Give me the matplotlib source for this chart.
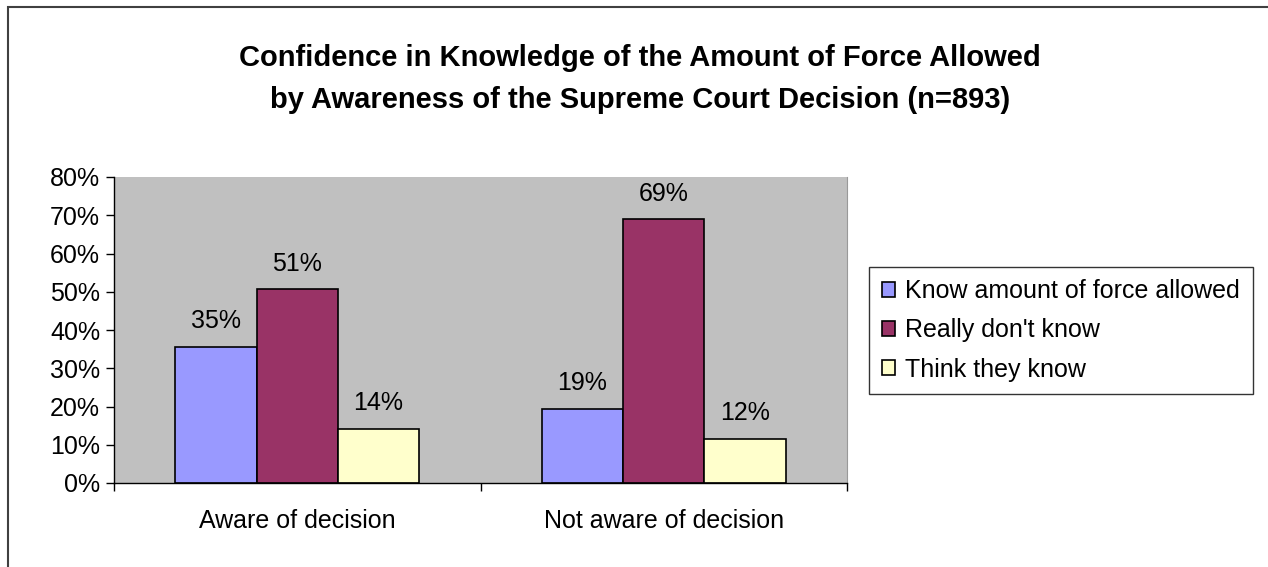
import matplotlib.pyplot as plt
import numpy as np
from matplotlib.patches import Rectangle

plt.rcParams['font.family'] = ['Liberation Sans', 'DejaVu Sans']

categories = ["Aware of decision", "Not aware of decision"]
series_names = ["Know amount of force allowed", "Really don't know", "Think they know"]
know = [35.5, 19.4]
dont_know = [50.6, 68.9]
think_know = [14.1, 11.6]
labels = [["35%", "19%"], ["51%", "69%"], ["14%", "12%"]]
colors = ["#9999FF", "#993366", "#FFFFCC"]

fig = plt.figure(figsize=(12.68, 5.67), dpi=100)
# outer chart border (right and bottom edges fall outside the picture)
fig.patches.append(Rectangle((8 / 1268, -0.05), 1.2, 1 - 7 / 567 + 0.05,
                             transform=fig.transFigure, fill=False,
                             edgecolor="#404040", linewidth=1.5))

ax = fig.add_axes([114 / 1268, 1 - 483 / 567, 733 / 1268, 306 / 567])
ax.set_facecolor("#C0C0C0")

x = np.arange(len(categories))
w = 0.222
all_vals = [know, dont_know, think_know]
for i, vals in enumerate(all_vals):
    pos = x + (i - 1) * w
    ax.bar(pos, vals, width=w, color=colors[i], edgecolor="black",
           linewidth=1.2, label=series_names[i], zorder=2)
    for p, v, t in zip(pos, vals, labels[i]):
        ax.annotate(t, (p, v), xytext=(0, 10), textcoords="offset points",
                    ha="center", va="bottom", fontsize=18)

ax.set_xlim(-0.5, 1.5)
ax.set_ylim(0, 80)
ax.set_yticks(np.arange(0, 81, 10))
ax.set_yticklabels([f"{v}%" for v in range(0, 81, 10)], fontsize=18)
ax.set_xticks(x)
ax.set_xticklabels(categories, fontsize=18)
ax.tick_params(axis="x", which="major", length=0, pad=19)
ax.set_xticks([-0.5, 0.5, 1.5], minor=True)
ax.tick_params(axis="x", which="minor", length=6, width=1)
ax.tick_params(axis="y", length=6, width=1, pad=4)
ax.spines["top"].set_visible(False)
ax.spines["right"].set_color("#999999")
ax.spines["left"].set_linewidth(1)
ax.spines["bottom"].set_linewidth(1)

leg = ax.legend(loc="upper left", bbox_to_anchor=(869 / 1268, 1 - 267 / 567),
                bbox_transform=fig.transFigure, fontsize=18, frameon=True,
                fancybox=False, edgecolor="black", handlelength=0.55,
                handleheight=0.55, handletextpad=0.4, labelspacing=0.6,
                borderpad=0.5, borderaxespad=0)
leg.get_frame().set_linewidth(1)

fig.text(640 / 1268, 1 - 58 / 567,
         "Confidence in Knowledge of the Amount of Force Allowed",
         ha="center", va="center", fontsize=21, fontweight="bold")
fig.text(640 / 1268, 1 - 100 / 567,
         "by Awareness of the Supreme Court Decision (n=893)",
         ha="center", va="center", fontsize=21, fontweight="bold")

fig.savefig("out.png", dpi=100)
